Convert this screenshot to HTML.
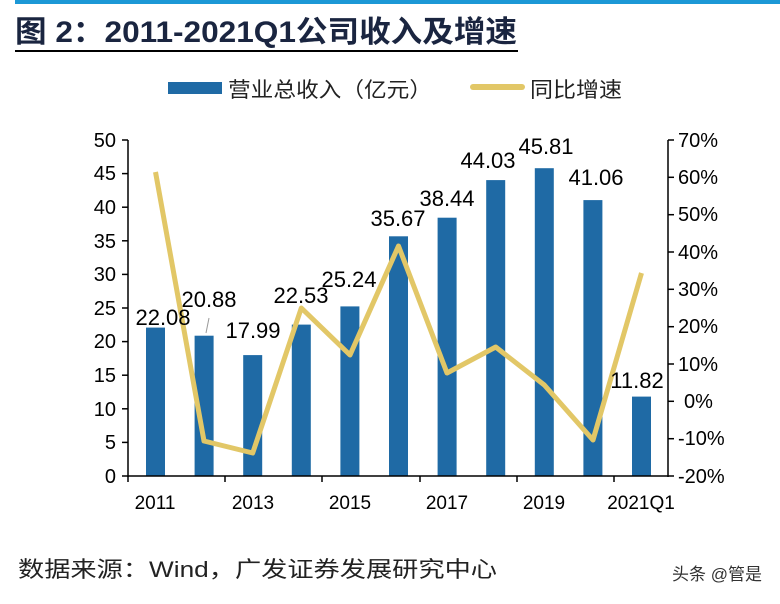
<!DOCTYPE html>
<html><head><meta charset="utf-8"><style>
body{margin:0;background:#fff;width:780px;height:599px;overflow:hidden;font-family:"Liberation Sans","Noto Sans CJK SC",sans-serif}
</style></head><body>
<svg width="780" height="599" xmlns="http://www.w3.org/2000/svg" font-family="Liberation Sans, Noto Sans CJK SC, sans-serif">
<rect x="15" y="0" width="765" height="4" fill="#1c98d6"/>
<text x="15" y="42" font-size="30" font-weight="bold" fill="#1a2540" textLength="502" lengthAdjust="spacingAndGlyphs">图 2：2011-2021Q1公司收入及增速</text>
<rect x="15" y="50" width="503" height="2" fill="#000"/>
<rect x="168" y="82" width="54" height="12" fill="#1f6aa5"/>
<text x="228" y="97" font-size="21" fill="#222" textLength="204" lengthAdjust="spacingAndGlyphs">营业总收入（亿元）</text>
<rect x="470" y="84" width="55" height="6" rx="3" fill="#e2c767"/>
<text x="530" y="97" font-size="21" fill="#222" textLength="92" lengthAdjust="spacingAndGlyphs">同比增速</text>
<g id="bars" fill="#1f6aa5">
<rect x="146" y="327.6" width="19" height="148.4"/>
<rect x="194.6" y="335.7" width="19" height="140.3"/>
<rect x="243.2" y="355.1" width="19" height="120.9"/>
<rect x="291.8" y="324.6" width="19" height="151.4"/>
<rect x="340.4" y="306.4" width="19" height="169.6"/>
<rect x="389" y="236.3" width="19" height="239.7"/>
<rect x="437.6" y="217.7" width="19" height="258.3"/>
<rect x="486.2" y="180.1" width="19" height="295.9"/>
<rect x="534.8" y="168.2" width="19" height="307.8"/>
<rect x="583.4" y="200.1" width="19" height="275.9"/>
<rect x="632" y="396.6" width="19" height="79.4"/>
</g>
<polyline fill="none" stroke="#e2c767" stroke-width="5" stroke-linejoin="round" points="155.5,172 204,441 252.7,453 301.3,308 350,355 398.5,246 447,373 495.7,347 544.3,385 593,440 641.5,273"/>
<g stroke="#000" stroke-width="1.5">
<line x1="128" y1="140" x2="128" y2="477"/>
<line x1="668" y1="140" x2="668" y2="477"/>
<line x1="128" y1="476" x2="668" y2="476"/>
<line x1="122" y1="476" x2="128" y2="476"/><line x1="122" y1="442.4" x2="128" y2="442.4"/><line x1="122" y1="408.8" x2="128" y2="408.8"/><line x1="122" y1="375.2" x2="128" y2="375.2"/><line x1="122" y1="341.6" x2="128" y2="341.6"/><line x1="122" y1="308" x2="128" y2="308"/><line x1="122" y1="274.4" x2="128" y2="274.4"/><line x1="122" y1="240.8" x2="128" y2="240.8"/><line x1="122" y1="207.2" x2="128" y2="207.2"/><line x1="122" y1="173.6" x2="128" y2="173.6"/><line x1="122" y1="140" x2="128" y2="140"/>
<line x1="668" y1="476" x2="674" y2="476"/><line x1="668" y1="438.7" x2="674" y2="438.7"/><line x1="668" y1="401.3" x2="674" y2="401.3"/><line x1="668" y1="364" x2="674" y2="364"/><line x1="668" y1="326.7" x2="674" y2="326.7"/><line x1="668" y1="289.3" x2="674" y2="289.3"/><line x1="668" y1="252" x2="674" y2="252"/><line x1="668" y1="214.7" x2="674" y2="214.7"/><line x1="668" y1="177.3" x2="674" y2="177.3"/><line x1="668" y1="140" x2="674" y2="140"/>
<line x1="128" y1="476" x2="128" y2="482"/><line x1="225" y1="476" x2="225" y2="482"/><line x1="322" y1="476" x2="322" y2="482"/><line x1="420" y1="476" x2="420" y2="482"/><line x1="517" y1="476" x2="517" y2="482"/><line x1="614" y1="476" x2="614" y2="482"/>
</g>
<g font-size="20" text-anchor="end">
<text x="116" y="483">0</text><text x="116" y="449">5</text><text x="116" y="416">10</text><text x="116" y="382">15</text><text x="116" y="348">20</text><text x="116" y="315">25</text><text x="116" y="281">30</text><text x="116" y="248">35</text><text x="116" y="214">40</text><text x="116" y="180">45</text><text x="116" y="147">50</text>
</g>
<g font-size="20" text-anchor="start">
<text x="678" y="483">-20%</text><text x="678" y="445">-10%</text><text x="684" y="408">0%</text><text x="678" y="371">10%</text><text x="678" y="333">20%</text><text x="678" y="296">30%</text><text x="678" y="259">40%</text><text x="678" y="221">50%</text><text x="678" y="184">60%</text><text x="678" y="147">70%</text>
</g>
<g font-size="19" text-anchor="middle">
<text x="155" y="509">2011</text><text x="253" y="509">2013</text><text x="350" y="509">2015</text><text x="447" y="509">2017</text><text x="544" y="509">2019</text><text x="641" y="509">2021Q1</text>
</g>
<g font-size="22" text-anchor="middle">
<text x="163" y="325">22.08</text>
<text x="209" y="307">20.88</text>
<line x1="206" y1="333" x2="209" y2="318" stroke="#999" stroke-width="1"/>
<text x="253" y="338">17.99</text>
<text x="301" y="303">22.53</text>
<text x="349" y="287">25.24</text>
<text x="398" y="226">35.67</text>
<text x="447" y="206">38.44</text>
<text x="488" y="168">44.03</text>
<text x="546" y="154">45.81</text>
<text x="596" y="185">41.06</text>
<text x="637" y="388">11.82</text>
</g>
<text x="18" y="577" font-size="22" fill="#222" textLength="479" lengthAdjust="spacingAndGlyphs">数据来源：Wind，广发证券发展研究中心</text>
<text x="672" y="580" font-size="17" fill="#333">头条 @管是</text>
</svg>
</body></html>
